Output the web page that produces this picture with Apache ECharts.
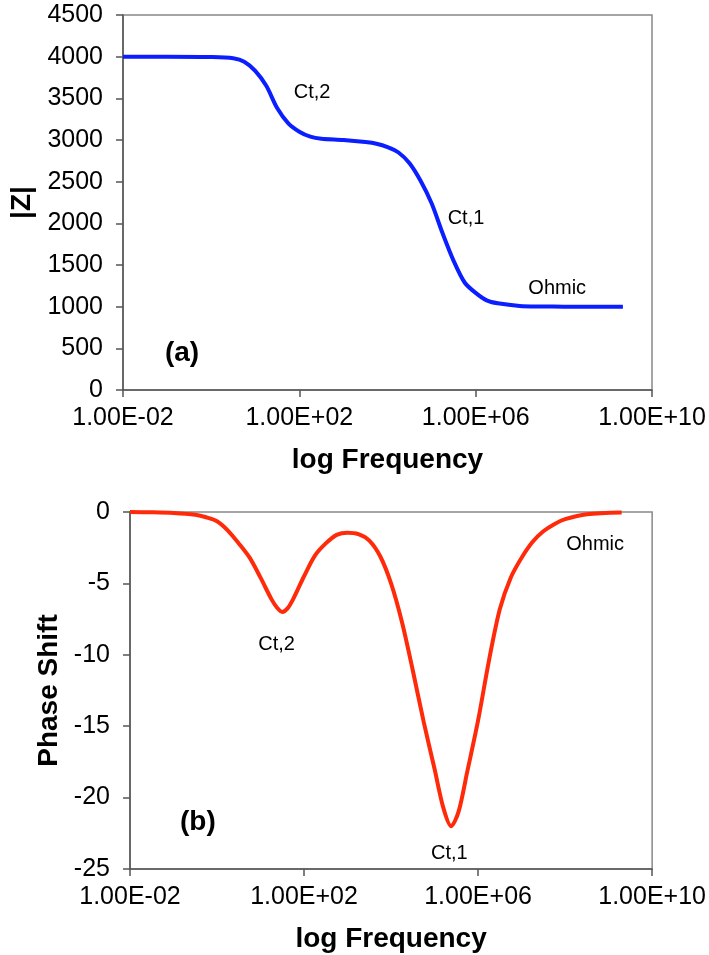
<!DOCTYPE html>
<html lang="en">
<head>
<meta charset="UTF-8">
<title>Impedance</title>
<style>
  html, body { margin: 0; padding: 0; background: #fff; }
  #chart { width: 709px; height: 955px; }
</style>
</head>
<body>
<div id="chart"></div>
<script src="https://cdn.jsdelivr.net/npm/echarts@6/dist/echarts.min.js"></script>
<script>
// x values are log10(frequency)
var zLogF = [-2, -1, 0, 0.5, 0.75, 1.0, 1.25, 1.5, 1.75, 2.0, 2.25, 2.5, 3.0, 3.5, 3.75, 4.0, 4.25, 4.5, 4.75, 5.0, 5.25, 5.5, 5.75, 6.0, 6.25, 6.5, 7.0, 7.5, 8.0, 9.34];
var zMag = [4000, 4000, 3995, 3980, 3940, 3830, 3650, 3380, 3200, 3100, 3040, 3015, 3000, 2975, 2955, 2915, 2850, 2720, 2510, 2240, 1880, 1550, 1290, 1165, 1075, 1040, 1008, 1002, 1000, 1000];

var phLogF = [-2, -1.5, -1, -0.5, -0.25, 0, 0.25, 0.5, 0.75, 1.0, 1.25, 1.38, 1.5, 1.62, 1.75, 2.0, 2.25, 2.5, 2.75, 3.0, 3.25, 3.5, 3.75, 4.0, 4.25, 4.5, 4.75, 5.0, 5.2, 5.38, 5.55, 5.75, 6.0, 6.25, 6.5, 6.75, 7.0, 7.25, 7.5, 7.75, 8.0, 8.5, 9.3];
var phShift = [0, -0.02, -0.07, -0.2, -0.37, -0.65, -1.3, -2.2, -3.2, -4.6, -6.1, -6.7, -7.0, -6.75, -6.1, -4.5, -3.05, -2.2, -1.6, -1.45, -1.55, -2.0, -3.1, -5.0, -7.7, -11.1, -14.7, -18.0, -20.7, -22.0, -21.0, -18.2, -14.6, -10.4, -6.8, -4.6, -3.2, -2.1, -1.35, -0.85, -0.5, -0.15, -0.03];

// annotations, in data coordinates
var topNotes = ['Ct,2', 'Ct,1', 'Ohmic'];
var topNoteX = [2.29, 5.78, 7.85];
var topNoteY = [3576, 2064, 1224];
var bottomNotes = ['Ct,2', 'Ct,1', 'Ohmic'];
var bottomNoteX = [1.37, 5.34, 8.69];
var bottomNoteY = [-9.3, -23.9, -2.3];
var panelTags = ['(a)', '(b)'];
var panelTagX = [-0.66, -0.44];
var panelTagY = [444, -21.7];

var FONT = 'Liberation Sans, Arial, Helvetica, sans-serif';

function zip(xs, ys) {
  var out = [];
  for (var i = 0; i < xs.length; i++) out.push([xs[i], ys[i]]);
  return out;
}
function notes(names, xs, ys) {
  var out = [];
  for (var i = 0; i < names.length; i++) out.push({ name: names[i], value: [xs[i], ys[i]] });
  return out;
}
function sci(v) {
  var a = Math.abs(Math.round(v));
  return '1.00E' + (v < 0 ? '-' : '+') + (a < 10 ? '0' + a : a);
}

function xAxisFor(idx) {
  return {
    type: 'value', gridIndex: idx, min: -2, max: 10, interval: 4,
    name: 'log Frequency', nameLocation: 'middle', nameGap: 56,
    nameTextStyle: { fontFamily: FONT, fontWeight: 'bold', fontSize: 28, color: '#000' },
    axisLine: { show: true, onZero: false, lineStyle: { color: '#555', width: 1.5 } },
    axisTick: { show: true, length: 7, lineStyle: { color: '#555', width: 1.5 } },
    axisLabel: { formatter: sci, fontFamily: FONT, fontSize: 25, color: '#000', margin: 16 },
    splitLine: { show: false }
  };
}
function yAxisFor(idx, min, max, step, title, gap) {
  return {
    type: 'value', gridIndex: idx, min: min, max: max, interval: step,
    name: title, nameLocation: 'middle', nameGap: gap,
    nameTextStyle: { fontFamily: FONT, fontWeight: 'bold', fontSize: 28, color: '#000' },
    axisLine: { show: true, onZero: false, lineStyle: { color: '#555', width: 1.5 } },
    axisTick: { show: true, length: 7, lineStyle: { color: '#555', width: 1.5 } },
    axisLabel: { formatter: function (v) { return String(v); }, fontFamily: FONT, fontSize: 25, color: '#000', margin: 20 },
    splitLine: { show: false }
  };
}
function noteSeries(idx, data, size, bold) {
  return {
    type: 'scatter', xAxisIndex: idx, yAxisIndex: idx, symbolSize: 0, silent: true,
    itemStyle: { opacity: 1 },
    data: data,
    label: {
      show: true, position: 'inside', formatter: '{b}', opacity: 1,
      fontFamily: FONT, fontSize: size, color: '#000', fontWeight: bold ? 'bold' : 'normal'
    }
  };
}

var myChart = echarts.init(document.getElementById('chart'), null, { renderer: 'canvas' });

var option = {
  animation: false,
  backgroundColor: '#fff',
  grid: [
    { left: 123, top: 15, width: 529, height: 375, show: true, borderColor: '#888', borderWidth: 1.5, backgroundColor: 'transparent' },
    { left: 130, top: 512, width: 523, height: 357, show: true, borderColor: '#888', borderWidth: 1.5, backgroundColor: 'transparent' }
  ],
  xAxis: [xAxisFor(0), xAxisFor(1)],
  yAxis: [
    yAxisFor(0, 0, 4500, 500, '|Z|', 84),
    yAxisFor(1, -25, 0, 5, 'Phase Shift', 60)
  ],
  series: [
    {
      type: 'line', xAxisIndex: 0, yAxisIndex: 0, data: zip(zLogF, zMag),
      smooth: 0.3, showSymbol: false,
      lineStyle: { color: '#0a1eff', width: 4 }
    },
    {
      type: 'line', xAxisIndex: 1, yAxisIndex: 1, data: zip(phLogF, phShift),
      smooth: 0.3, showSymbol: false,
      lineStyle: { color: '#ff2a0a', width: 4 }
    },
    noteSeries(0, notes(topNotes, topNoteX, topNoteY), 20, false),
    noteSeries(1, notes(bottomNotes, bottomNoteX, bottomNoteY), 20, false),
    noteSeries(0, [{ name: panelTags[0], value: [panelTagX[0], panelTagY[0]] }], 28, true),
    noteSeries(1, [{ name: panelTags[1], value: [panelTagX[1], panelTagY[1]] }], 28, true)
  ]
};
myChart.setOption(option);
</script>
</body>
</html>
